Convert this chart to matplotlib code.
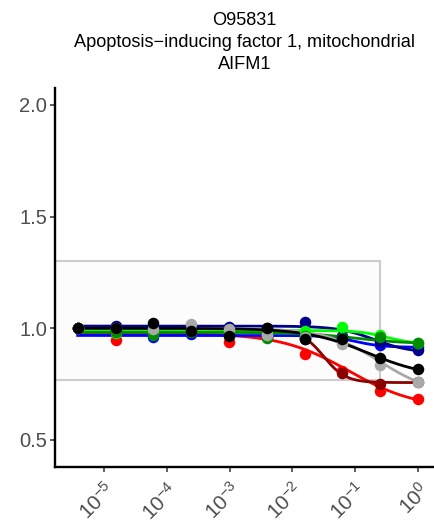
import numpy as np
import matplotlib
matplotlib.use("Agg")
import matplotlib.pyplot as plt
from matplotlib.patches import Rectangle

plt.rcParams["font.family"] = ["Liberation Sans", "DejaVu Sans"]
plt.rcParams["mathtext.fontset"] = "custom"
plt.rcParams["mathtext.rm"] = "Liberation Sans"
plt.rcParams["mathtext.it"] = "Liberation Sans"

# ── data ───────────────────────────────────────────
TITLE = "O95831\nApoptosis\u2212inducing factor 1, mitochondrial\nAIFM1"

conc = [3.81e-6, 1.53e-5, 6.10e-5, 2.44e-4, 9.77e-4, 3.91e-3, 0.0156, 0.0625, 0.25, 1.0]

series_names = ["red", "darkred", "blue", "darkblue", "green", "green4", "darkgray", "black"]
series_colors = ["#FF0000", "#8B0000", "#0000FF", "#00008B", "#00FF00", "#008B00", "#A9A9A9", "#000000"]

red_vals      = [1.0, 0.946, 0.980, 0.985, 0.940, 0.960, 0.887, 0.810, 0.720, 0.685]
darkred_vals  = [1.0, 0.985, 0.990, 0.990, 0.975, 0.980, 0.950, 0.800, 0.752, 0.760]
blue_vals     = [1.0, 0.990, 0.960, 0.975, 0.980, 0.960, 0.955, 0.950, 0.925, 0.915]
darkblue_vals = [1.0, 1.012, 1.000, 1.005, 1.006, 1.000, 1.030, 0.965, 0.940, 0.905]
green_vals    = [1.0, 0.980, 0.985, 0.990, 0.985, 0.975, 0.990, 1.005, 0.970, 0.935]
green4_vals   = [1.0, 0.985, 0.970, 0.985, 0.975, 0.955, 0.965, 0.955, 0.960, 0.932]
gray_vals     = [1.0, 1.000, 0.996, 1.020, 0.995, 0.970, 0.960, 0.930, 0.837, 0.758]
black_vals    = [1.0, 1.000, 1.024, 0.990, 0.965, 1.000, 0.950, 0.950, 0.866, 0.820]

# fitted 4-parameter logistic curves: top, bottom, log10(EC50), hill
fit_top    = [0.978, 0.99, 0.968, 1.01, 0.99, 0.982, 1.00, 1.00]
fit_bottom = [0.64, 0.757, 0.915, 0.89, 0.93, 0.93, 0.70, 0.78]
fit_logec  = [-1.1, -1.5, -1.0, -0.7, -0.5, -1.0, -0.6, -0.8]
fit_hill   = [0.8, 2.5, 2.0, 1.5, 2.0, 1.0, 1.0, 0.9]

# tolerance box
box_x_right = 0.25
box_low, box_high = 0.77, 1.3

all_vals = [red_vals, darkred_vals, blue_vals, darkblue_vals,
            green_vals, green4_vals, gray_vals, black_vals]


def logistic(logx, top, bottom, logec, hill):
    return bottom + (top - bottom) / (1 + 10 ** ((logx - logec) * hill))


fig = plt.figure(figsize=(4.34, 5.26), dpi=100)
ax = fig.add_axes([55 / 434, (526 - 467) / 526, 379 / 434, (467 - 88) / 526])

ax.set_xscale("log")
xmin, xmax = 10 ** -5.78, 10 ** 0.255
ax.set_xlim(xmin, xmax)
ax.set_ylim(0.379, 2.076)

ax.add_patch(Rectangle((xmin, box_low), box_x_right - xmin, box_high - box_low,
                       facecolor="#fcfcfc", edgecolor="none", zorder=1))
ax.add_patch(Rectangle((xmin, box_low), box_x_right - xmin, box_high - box_low,
                       facecolor="none", edgecolor="#cccccc", linewidth=1.5, zorder=1.5))

grid = np.linspace(np.log10(conc[0]), np.log10(conc[-1]), 200)
for i, col in enumerate(series_colors):
    yfit = logistic(grid, fit_top[i], fit_bottom[i], fit_logec[i], fit_hill[i])
    ax.plot(10 ** grid, yfit, color=col, lw=2.0, zorder=2 + i * 0.01)
for i, col in enumerate(series_colors):
    ax.plot(conc, all_vals[i], "o", color=col, ms=8.3, mec="none", zorder=3 + i * 0.01)

ax.set_yticks([0.5, 1.0, 1.5, 2.0])
ax.set_yticklabels(["0.5", "1.0", "1.5", "2.0"])
xt = [1e-5, 1e-4, 1e-3, 1e-2, 1e-1, 1e0]
ax.set_xticks(xt)
ax.set_xticklabels([r"$10^{%d}$" % e for e in range(-5, 1)])
ax.xaxis.set_minor_locator(matplotlib.ticker.NullLocator())

ax.tick_params(axis="both", length=3.6, width=1.1, color="#333333",
               labelcolor="#4d4d4d", labelsize=14.5, pad=2)
ax.tick_params(axis="x", labelsize=15, pad=5)
for lab in ax.get_xticklabels():
    lab.set_rotation(45)
    lab.set_ha("right")
    lab.set_va("top")
    lab.set_rotation_mode("anchor")

for s in ["top", "right"]:
    ax.spines[s].set_visible(False)
for s in ["left", "bottom"]:
    ax.spines[s].set_linewidth(1.7)
    ax.spines[s].set_color("black")

fig.text((55 + 434) / 2 / 434, 1 - 12 / 526, TITLE, ha="center", va="top",
         fontsize=13.1, linespacing=1.4, color="black")

fig.savefig("out.png", dpi=100)
